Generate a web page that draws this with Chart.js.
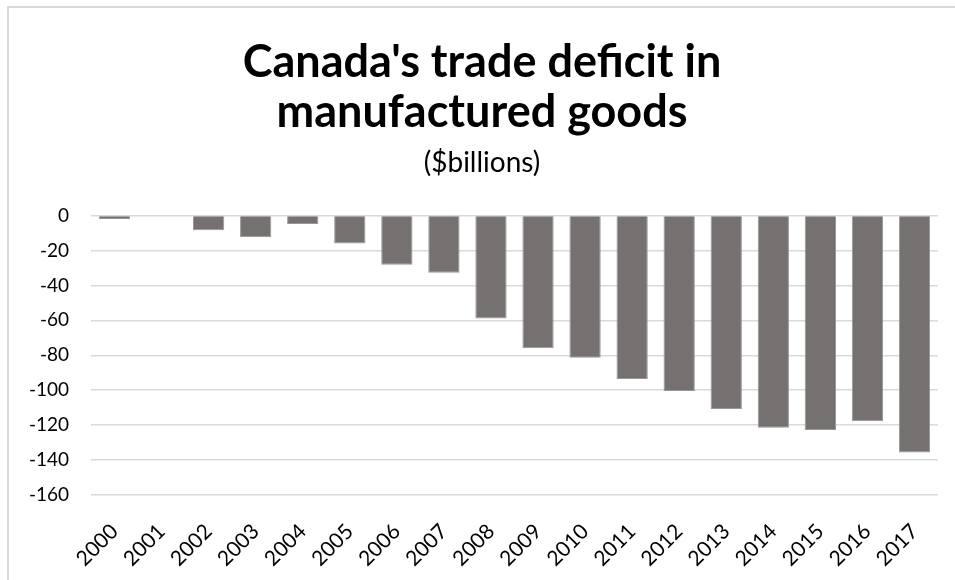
<!DOCTYPE html>
<html>
<head>
<meta charset="utf-8">
<script src="https://cdn.jsdelivr.net/npm/chart.js@4.4.1/dist/chart.umd.min.js"></script>
<style>
  html, body { margin: 0; padding: 0; background: #ffffff; overflow: hidden; }
  #wrap { position: relative; width: 955px; height: 580px; }
  #frame {
    position: absolute; left: 7px; top: 6px; width: 1000px; height: 1000px;
    border: 2px solid #d9d9d9; box-sizing: border-box;
  }
  canvas { position: absolute; left: 0; top: 0; }
</style>
</head>
<body>
<div id="wrap">
  <div id="frame"></div>
  <canvas id="tradeChart" width="955" height="580"></canvas>
</div>
<script>
// Manufactured goods trade balance, $ billions
const years = ['2000', '2001', '2002', '2003', '2004', '2005', '2006', '2007', '2008',
               '2009', '2010', '2011', '2012', '2013', '2014', '2015', '2016', '2017'];
const deficit = [-1.9, 0, -8.4, -12.4, -4.8, -16.0, -28.1, -32.7, -59.0,
                 -76.0, -81.4, -93.6, -100.5, -110.8, -121.5, -122.8, -117.8, -135.6];
const yTicks = [0, -20, -40, -60, -80, -100, -120, -140, -160];

const fontFamily = 'Lato, "Open Sans", sans-serif';

const ctx = document.getElementById('tradeChart').getContext('2d');

new Chart(ctx, {
    type: 'bar',
    data: {
        labels: years,
        datasets: [{
            label: 'Trade balance',
            data: deficit,
            backgroundColor: '#767171',
            borderColor: '#9a9696',
            borderWidth: 1,
            categoryPercentage: 1,
            barPercentage: 0.665
        }]
    },
    options: {
        responsive: false,
        animation: false,
        // left padding nudges the title block right; y labels must still fit inside
        layout: { padding: { left: 26, right: 17, top: 0, bottom: 0 } },
        scales: {
            x: {
                grid: { display: false },
                border: { display: false },
                ticks: {
                    color: '#000000',
                    font: { family: fontFamily, size: 21 },
                    minRotation: 45,
                    maxRotation: 45,
                    padding: 16
                },
                afterFit: (scale) => { scale.height = 85; }
            },
            y: {
                min: -160,
                max: 0,
                afterBuildTicks: (scale) => {
                    scale.ticks = yTicks.map(v => ({ value: v }));
                },
                grid: { color: '#d9d9d9', lineWidth: 1.5, drawTicks: false },
                border: { display: false },
                ticks: {
                    color: '#000000',
                    font: { family: fontFamily, size: 19 },
                    padding: 22
                },
                afterFit: (scale) => { scale.width = 65; }
            }
        },
        plugins: {
            legend: { display: false },
            tooltip: { enabled: false },
            title: {
                display: true,
                text: ["Canada's trade deficit in", 'manufactured goods'],
                color: '#000000',
                font: { family: fontFamily, size: 45, weight: 'bold', lineHeight: 1.111 },
                padding: { top: 37, bottom: 9 }
            },
            subtitle: {
                display: true,
                text: '($billions)',
                color: '#000000',
                font: { family: fontFamily, size: 28, lineHeight: 1.2 },
                padding: { top: 0, bottom: 36 }
            }
        }
    }
});
</script>
</body>
</html>
